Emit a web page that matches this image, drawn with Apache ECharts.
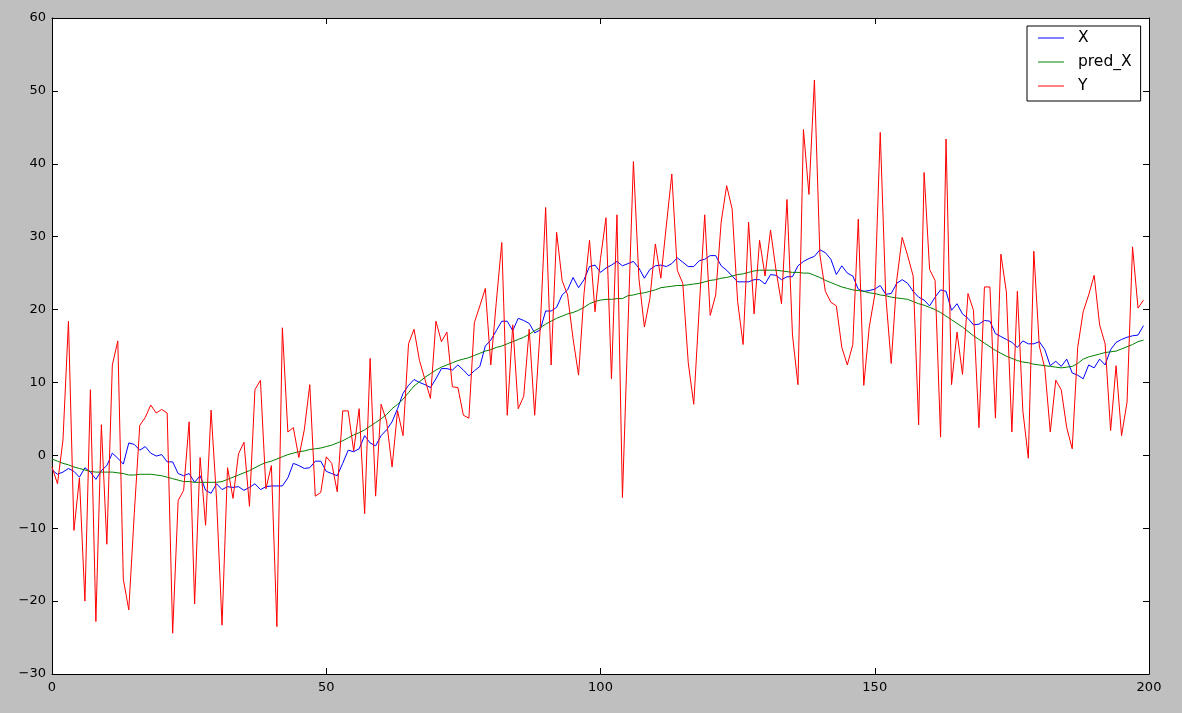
<!DOCTYPE html>
<html>
<head>
<meta charset="utf-8">
<script src="https://cdn.jsdelivr.net/npm/echarts@6/dist/echarts.min.js"></script>
<style>
html,body{margin:0;padding:0;background:#bfbfbf;}
#chart{width:1182px;height:713px;}
</style>
</head>
<body>
<div id="chart"></div>
<script>
const seriesNames = ['X', 'pred_X', 'Y'];
const xTicks = [0, 50, 100, 150, 200];
const yTicks = [-30, -20, -10, 0, 10, 20, 30, 40, 50, 60];

const X = [
-2.0,-2.6,-2.3,-1.8,-2.2,-3.0,-1.7,-2.3,-3.3,-2.1,-1.4,0.3,-0.4,-1.2,1.7,1.5,0.7,1.2,0.3,-0.1,
0.1,-0.9,-0.9,-2.5,-2.8,-2.5,-3.7,-2.8,-4.8,-5.2,-3.9,-4.7,-4.3,-4.4,-4.3,-4.8,-4.4,-3.9,-4.7,-4.3,
-4.2,-4.2,-4.2,-3.1,-1.1,-1.4,-1.8,-1.7,-0.8,-0.8,-2.2,-2.5,-2.8,-1.1,0.7,0.5,0.9,2.7,1.7,1.3,
2.7,3.5,4.6,6.4,8.5,9.6,10.4,10.0,9.7,9.3,10.5,11.9,11.9,11.7,12.4,11.7,10.9,11.6,12.2,15.0,
15.8,17.1,18.4,18.4,17.1,18.8,18.5,18.1,16.8,17.2,19.8,19.8,20.3,22.0,22.7,24.4,23.0,24.1,25.9,26.1,
25.1,25.7,26.1,26.6,26.0,26.3,26.6,25.7,24.3,25.5,26.0,26.1,25.9,26.3,27.1,26.5,25.9,25.9,26.7,26.9,
27.4,27.4,26.0,25.4,24.6,23.8,23.8,23.8,24.1,24.1,23.5,24.8,24.7,24.1,24.5,24.5,26.0,26.6,27.0,27.3,
28.2,27.8,26.9,24.8,26.0,25.0,24.6,22.8,22.5,22.6,22.8,23.3,22.1,22.2,23.6,24.1,23.6,22.5,21.7,21.3,
20.5,21.7,22.7,22.5,19.9,20.8,19.4,18.8,17.9,18.0,18.5,18.4,16.7,16.3,15.9,15.5,14.8,15.7,15.3,15.3,
15.6,14.5,12.3,12.9,12.2,13.2,11.3,11.0,10.5,12.4,12.0,13.2,12.4,14.5,15.5,15.9,16.2,16.4,16.5,17.8
];

const predX = [
-0.5,-0.8,-1.1,-1.3,-1.6,-1.8,-2.0,-2.2,-2.3,-2.3,-2.3,-2.3,-2.4,-2.5,-2.7,-2.7,-2.6,-2.6,-2.6,-2.7,
-2.8,-3.0,-3.2,-3.4,-3.6,-3.6,-3.7,-3.7,-3.7,-3.7,-3.7,-3.6,-3.3,-3.0,-2.7,-2.4,-2.1,-1.7,-1.3,-1.0,
-0.8,-0.5,-0.2,0.1,0.3,0.5,0.6,0.8,0.9,1.0,1.2,1.4,1.7,2.0,2.4,2.8,3.1,3.5,4.0,4.5,
5.0,5.6,6.4,7.0,7.7,8.6,9.5,10.1,10.7,11.2,11.7,12.1,12.4,12.7,13.0,13.2,13.4,13.7,14.0,14.3,
14.5,14.8,15.0,15.3,15.6,15.9,16.2,16.6,17.1,17.5,18.0,18.4,18.8,19.1,19.4,19.6,19.9,20.3,20.8,21.1,
21.3,21.4,21.4,21.5,21.5,21.9,22.0,22.2,22.3,22.5,22.7,23.0,23.1,23.2,23.3,23.3,23.4,23.5,23.6,23.8,
24.0,24.1,24.3,24.4,24.6,24.8,24.9,25.1,25.3,25.4,25.4,25.4,25.4,25.3,25.2,25.1,25.1,25.0,25.0,24.7,
24.4,24.0,23.7,23.4,23.1,22.9,22.7,22.6,22.5,22.3,22.2,22.0,21.9,21.7,21.6,21.5,21.4,21.1,20.8,20.6,
20.3,20.0,19.6,19.1,18.6,18.1,17.6,17.0,16.4,15.9,15.4,14.9,14.4,14.0,13.6,13.3,13.0,12.8,12.7,12.5,
12.4,12.3,12.2,12.1,12.0,12.1,12.2,12.6,13.2,13.5,13.7,13.9,14.1,14.2,14.3,14.6,14.9,15.2,15.6,15.8
];

const Y = [
-1.6,-3.9,2.1,18.4,-10.3,-3.1,-20.0,9.0,-22.8,4.2,-12.2,12.4,15.7,-17.0,-21.2,-8.0,4.1,5.2,6.9,5.8,
6.3,5.8,-24.4,-6.2,-4.8,4.6,-20.4,-0.3,-9.6,6.2,-6.0,-23.3,-1.7,-5.9,0.2,1.8,-7.0,9.0,10.3,-4.6,
-1.4,-23.5,17.5,3.2,3.8,-0.3,3.5,9.7,-5.6,-5.1,-0.2,-1.1,-5.0,6.1,6.1,0.6,6.4,-8.0,13.3,-5.6,
7.0,4.7,-1.6,6.1,2.7,15.3,17.3,13.0,10.4,7.8,18.4,15.6,16.9,9.4,9.3,5.5,5.1,18.2,20.5,22.9,
12.4,21.0,29.2,5.5,17.9,6.4,8.1,17.3,5.5,17.3,34.0,12.4,30.6,24.0,22.0,16.0,11.0,22.2,29.5,19.7,
27.0,32.6,10.5,33.0,-5.8,17.5,40.3,24.3,17.6,21.5,29.0,24.3,31.5,38.6,25.4,23.6,12.7,7.0,20.2,33.0,
19.2,22.0,32.0,37.0,33.8,21.1,15.2,32.0,19.4,29.5,24.6,30.9,25.4,20.8,35.1,16.5,9.7,44.7,35.8,51.5,
27.5,22.5,21.0,20.5,14.8,12.4,15.2,32.4,9.6,17.6,22.0,44.3,22.0,12.6,24.0,29.9,27.4,24.6,4.2,38.8,
25.5,24.0,2.5,43.4,9.7,16.9,11.1,22.2,19.9,3.8,23.1,23.1,5.1,27.6,22.4,3.2,22.5,6.1,-0.4,28.0,
15.0,12.0,3.2,10.3,9.0,3.8,0.9,14.8,19.7,22.0,24.7,17.9,15.3,3.4,12.3,2.7,7.3,28.6,20.2,21.3
];

const colors = ['#0000ff', '#008000', '#ff0000'];
const valuesList = [X, predX, Y];

const chart = echarts.init(document.getElementById('chart'), null, {renderer: 'canvas'});
const fontFam = '"DejaVu Sans", sans-serif';
const minus = v => String(v).replace('-', '\u2212');

function axisBase(extra) {
  return Object.assign({
    type: 'value',
    axisLine: {show: true, onZero: false, lineStyle: {color: '#000', width: 1}},
    axisTick: {show: true, inside: true, length: 6, lineStyle: {color: '#000', width: 1}},
    splitLine: {show: false},
    axisLabel: {color: '#000', fontSize: 13, fontFamily: fontFam, formatter: minus}
  }, extra);
}

const option = {
  animation: false,
  backgroundColor: '#bfbfbf',
  grid: {left: 52, right: 33, top: 18, bottom: 39, show: true, backgroundColor: '#ffffff', borderWidth: 0},
  xAxis: [
    axisBase({min: xTicks[0], max: xTicks[xTicks.length - 1], interval: 50, position: 'bottom',
      axisLabel: {color: '#000', fontSize: 13, fontFamily: fontFam, margin: 7, formatter: minus}}),
    axisBase({min: xTicks[0], max: xTicks[xTicks.length - 1], interval: 50, position: 'top',
      axisLabel: {show: false}})
  ],
  yAxis: [
    axisBase({min: yTicks[0], max: yTicks[yTicks.length - 1], interval: 10, position: 'left',
      axisLabel: {color: '#000', fontSize: 13, fontFamily: fontFam, margin: 6, formatter: minus}}),
    axisBase({min: yTicks[0], max: yTicks[yTicks.length - 1], interval: 10, position: 'right',
      axisLabel: {show: false}})
  ],
  legend: {
    orient: 'vertical',
    left: 1027,
    top: 26,
    data: seriesNames,
    icon: 'rect',
    itemWidth: 26,
    itemHeight: 1,
    itemGap: 8,
    padding: [4, 9, 7, 11],
    backgroundColor: '#ffffff',
    borderColor: '#000000',
    borderWidth: 1,
    borderRadius: 0,
    textStyle: {color: '#000', fontSize: 15.5, fontFamily: fontFam, lineHeight: 16, padding: [0, 0, 0, 9]}
  },
  series: seriesNames.map((name, k) => ({
    name: name,
    type: 'line',
    xAxisIndex: 0,
    yAxisIndex: 0,
    showSymbol: false,
    symbol: 'none',
    color: colors[k],
    lineStyle: {color: colors[k], width: 1},
    data: valuesList[k].map((v, i) => [i, v]),
    z: 2 + k
  }))
};
chart.setOption(option);
</script>
</body>
</html>
